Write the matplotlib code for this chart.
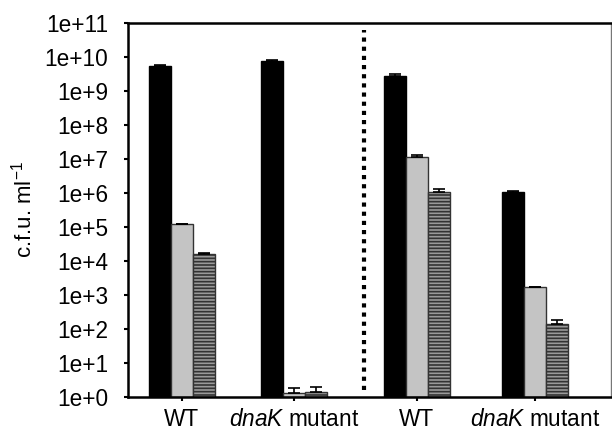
import numpy as np
import matplotlib.pyplot as plt

plt.rcParams['font.family'] = ['Liberation Sans', 'DejaVu Sans']
plt.rcParams['mathtext.fontset'] = 'custom'
plt.rcParams['mathtext.rm'] = 'Liberation Sans'
plt.rcParams['mathtext.it'] = 'Liberation Sans:italic'
plt.rcParams['hatch.linewidth'] = 1.2
plt.rcParams['hatch.color'] = 'black'

groups = ['WT', r'$\it{dnaK}$ mutant', 'WT', r'$\it{dnaK}$ mutant']
group_pos = [0, 1, 2.1, 3.15]

black_vals = [5.5e9, 7.6e9, 2.7e9, 1.07e6]
black_err = [0.3e9, 0.3e9, 0.4e9, 0.1e6]
gray_vals = [1.2e5, 1.3, 1.15e7, 1.7e3]
gray_err = [0.05e5, 0.6, 0.2e7, 0.05e3]
hatch_vals = [1.6e4, 1.4, 1.07e6, 1.4e2]
hatch_err = [0.15e4, 0.6, 0.2e6, 0.45e2]

ytick_vals = [10.0 ** k for k in range(0, 12)]
ytick_labels = ['1e+%d' % k for k in range(0, 12)]

fig = plt.figure(figsize=(6.12, 4.33), dpi=100)
ax = fig.add_axes([0.209, 0.083, 0.789, 0.864])

x = np.array(group_pos)
w = 0.196
ekw = dict(ecolor='black', elinewidth=1.2, capsize=4, capthick=1.2)
ax.bar(x - w, np.array(black_vals) - 1, w, bottom=1, color='black',
       edgecolor='black', yerr=[np.zeros(4), black_err], error_kw=ekw)
ax.bar(x, np.array(gray_vals) - 1, w, bottom=1, color='#c4c4c4',
       edgecolor='#333333', linewidth=1, yerr=[np.zeros(4), gray_err], error_kw=ekw)
ax.bar(x + w, np.array(hatch_vals) - 1, w, bottom=1, color='#9a9a9a',
       edgecolor='#333333', linewidth=1, hatch='-----',
       yerr=[np.zeros(4), hatch_err], error_kw=ekw)

ax.set_yscale('log')
ax.set_ylim(1, 1e11)
ax.set_xlim(-0.48, 3.83)
ax.set_yticks(ytick_vals)
ax.set_yticklabels(ytick_labels)
ax.minorticks_off()
ax.set_xticks(x)
ax.set_xticklabels(groups)
ax.tick_params(axis='y', labelsize=16.3, length=3, width=1.5, direction='out', pad=11)
ax.tick_params(axis='x', labelsize=16.3, length=3, width=1.5, direction='out', pad=5)

ax.axvline(1.625, ymin=0.02, ymax=0.98, color='black', linestyle=(0, (1, 1.2)),
           linewidth=3)

for s in ['left', 'bottom', 'top']:
    ax.spines[s].set_linewidth(1.8)
    ax.spines[s].set_color('black')
ax.spines['right'].set_linewidth(1)
ax.spines['right'].set_color('#777777')

ax.set_ylabel('c.f.u. ml$^{-1}$', fontsize=16, labelpad=6)

fig.savefig('out.png', dpi=100)
